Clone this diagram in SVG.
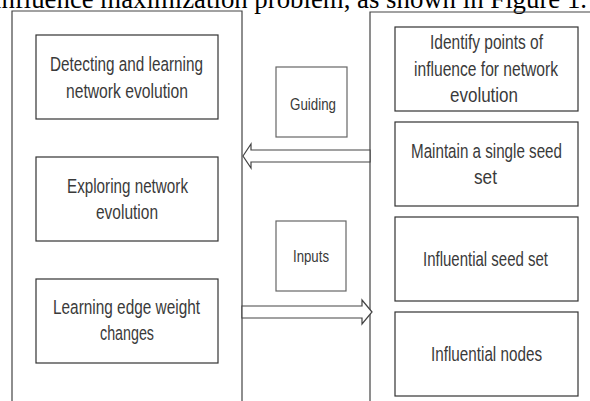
<svg xmlns="http://www.w3.org/2000/svg" width="590" height="401" viewBox="0 0 590 401">
<style>
.bg{fill:#fff}
.frame{fill:none;stroke:#444;stroke-width:1.2}
.box{fill:#fff;stroke:#333;stroke-width:1.2}
.lbox{fill:#fff;stroke:#666;stroke-width:1.2}
.t{font-family:"Liberation Sans",Arial,sans-serif;font-size:20.5px;fill:#3a3a3a}
.ts{font-family:"Liberation Sans",Arial,sans-serif;font-size:17px;fill:#3a3a3a}
.cap{font-family:"Liberation Serif","Times New Roman",serif;font-size:27px;fill:#000}
.arrow{fill:#fff;stroke:#444;stroke-width:1.2;stroke-linejoin:miter}
</style>
<rect class="bg" x="0" y="0" width="590" height="401"/>
<text class="cap" x="-6" y="8" textLength="593" lengthAdjust="spacingAndGlyphs">influence maximization problem, as shown in Figure 1.</text>

<g id="left-panel">
<path class="frame" d="M12,405 V11 H242 V405"/>
</g>
<g id="right-panel">
<path class="frame" d="M370,405 V12 H595"/>
</g>

<g id="connectors">
<path class="arrow" d="M243,156 L251,144 L251,150 L370,150 L370,162 L251,162 L251,168 Z"/>
<path class="arrow" d="M372,312 L362,300 L362,306 L242,306 L242,318 L362,318 L362,324 Z"/>
</g>

<g id="detecting">
<rect class="box" x="36" y="35" width="182" height="84"/>
<text class="t" x="50" y="71" textLength="153" lengthAdjust="spacingAndGlyphs">Detecting and learning</text>
<text class="t" x="66" y="98" textLength="122" lengthAdjust="spacingAndGlyphs">network evolution</text>
</g>
<g id="exploring">
<rect class="box" x="36" y="157" width="182" height="84"/>
<text class="t" x="67" y="193" textLength="121" lengthAdjust="spacingAndGlyphs">Exploring network</text>
<text class="t" x="96" y="219" textLength="62" lengthAdjust="spacingAndGlyphs">evolution</text>
</g>
<g id="learning">
<rect class="box" x="36" y="279" width="182" height="84"/>
<text class="t" x="53" y="314" textLength="147" lengthAdjust="spacingAndGlyphs">Learning edge weight</text>
<text class="t" x="100" y="340" textLength="54" lengthAdjust="spacingAndGlyphs">changes</text>
</g>

<g id="guiding">
<rect class="lbox" x="276" y="67" width="71" height="70"/>
<text class="ts" x="290" y="110" textLength="46" lengthAdjust="spacingAndGlyphs">Guiding</text>
</g>
<g id="inputs">
<rect class="lbox" x="276" y="221" width="70" height="70"/>
<text class="ts" x="293" y="262" textLength="36" lengthAdjust="spacingAndGlyphs">Inputs</text>
</g>

<g id="identify">
<rect class="box" x="395" y="27" width="183" height="84"/>
<text class="t" x="430" y="49" textLength="113" lengthAdjust="spacingAndGlyphs">Identify points of</text>
<text class="t" x="414" y="76" textLength="144" lengthAdjust="spacingAndGlyphs">influence for network</text>
<text class="t" x="450" y="102" textLength="68" lengthAdjust="spacingAndGlyphs">evolution</text>
</g>
<g id="maintain">
<rect class="box" x="395" y="122" width="183" height="84"/>
<text class="t" x="411" y="158" textLength="151" lengthAdjust="spacingAndGlyphs">Maintain a single seed</text>
<text class="t" x="474" y="184" textLength="23" lengthAdjust="spacingAndGlyphs">set</text>
</g>
<g id="seedset">
<rect class="box" x="395" y="217" width="183" height="84"/>
<text class="t" x="423" y="266" textLength="125" lengthAdjust="spacingAndGlyphs">Influential seed set</text>
</g>
<g id="nodes">
<rect class="box" x="395" y="312" width="183" height="84"/>
<text class="t" x="431" y="361" textLength="111" lengthAdjust="spacingAndGlyphs">Influential nodes</text>
</g>
</svg>
